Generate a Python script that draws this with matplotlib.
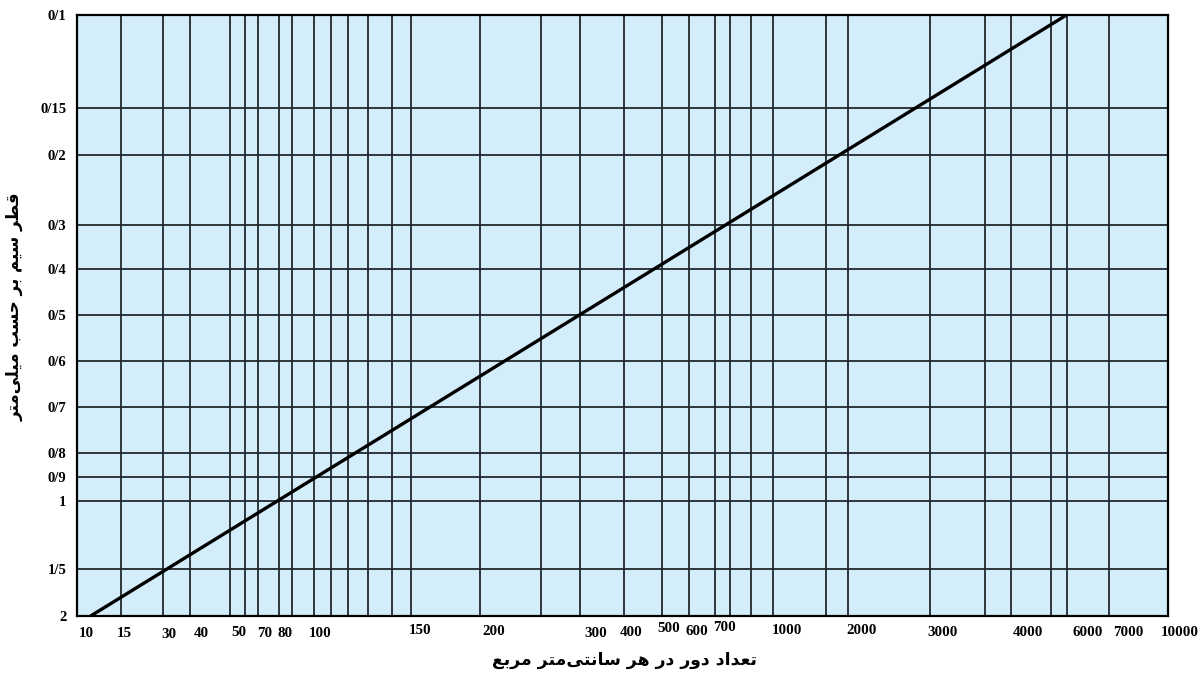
import numpy as np
import matplotlib
matplotlib.use("Agg")
import matplotlib.pyplot as plt
from matplotlib.ticker import FixedLocator, FixedFormatter, NullFormatter, NullLocator
from matplotlib.transforms import offset_copy

# ---- data -------------------------------------------------------------
# turns per square centimetre (x axis tick values)
turn_ticks = [10, 15, 30, 40, 50, 70, 80, 100, 150, 200, 300, 400, 500,
              600, 700, 1000, 2000, 3000, 4000, 6000, 7000, 10000]
turn_labels = [str(v) for v in turn_ticks]

# wire diameter in millimetres (y axis tick values, Persian decimal slash)
diameter_ticks = [0.1, 0.15, 0.2, 0.3, 0.4, 0.5, 0.6, 0.7, 0.8, 0.9, 1, 1.5, 2]
diameter_labels = ["0/1", "0/15", "0/2", "0/3", "0/4", "0/5", "0/6", "0/7",
                   "0/8", "0/9", "1", "1/5", "2"]

# characteristic line: turns per cm^2 versus wire diameter
line_turns = [10.5, 5200]
line_diameter = [2.0, 0.1]

x_title = "تعداد دور در هر سانتی\u200cمتر مربع"
y_title = "قطر سیم بر حسب میلی\u200cمتر"

# ---- layout (pixel positions on a 1199 x 676 sheet) ----------------------
FIG_W, FIG_H = 1199, 676
AX_L, AX_R, AX_T, AX_B = 77, 1168, 15, 616

# graph-paper scale: where each tick value sits along the axes
x_tick_px = [86, 124.3, 169, 201.7, 239.3, 264.3, 285.3, 320, 420, 493.3,
             595.3, 631, 668.3, 696.7, 725, 786.7, 861.7, 942.7, 1027.7,
             1087.7, 1128.3, 1180]
x_label_center_px = [631.7, 631.7, 632.7, 631.7, 631, 631.7, 631.7, 631.7,
                     629.3, 630, 631.7, 630.7, 627.3, 630, 626, 629.3, 629.3,
                     630.7, 630.7, 630.7, 630.7, 630.7]
y_tick_px = [15, 108.3, 154.5, 224.5, 269, 314.5, 361, 406.7, 452.7, 476.7,
             500.7, 569.3, 616]
x_grid_px = [120.7, 162.7, 190, 230.3, 245.3, 258, 279, 292, 314, 331.3, 348,
             368, 391.7, 411.3, 480, 541, 580, 624.3, 662, 688.7, 714.7,
             730.3, 751.3, 772.7, 825.7, 848.3, 930, 985, 1011, 1051, 1066.7,
             1109.3]

BG = "#D4EDFA"
GRID = "#23282c"


def make_scale(values, pixels):
    """Piecewise log scale through (value, pixel) anchors, linear beyond."""
    lv = np.log10(np.asarray(values, float))
    px = np.asarray(pixels, float)
    s0 = (px[1] - px[0]) / (lv[1] - lv[0])
    s1 = (px[-1] - px[-2]) / (lv[-1] - lv[-2])

    def fwd(v):
        v = np.log10(np.clip(np.asarray(v, float), 1e-12, None))
        out = np.interp(v, lv, px)
        out = np.where(v < lv[0], px[0] + (v - lv[0]) * s0, out)
        out = np.where(v > lv[-1], px[-1] + (v - lv[-1]) * s1, out)
        return out

    def inv(p):
        p = np.asarray(p, float)
        out = np.interp(p, px, lv)
        out = np.where(p < px[0], lv[0] + (p - px[0]) / s0, out)
        out = np.where(p > px[-1], lv[-1] + (p - px[-1]) / s1, out)
        return 10.0 ** out

    return fwd, inv


# ---- minimal Persian shaping (contextual forms, right-to-left) ----------
ARABIC_FORMS = {  # isolated, final, initial, medial
    "ا": (0xFE8D, 0xFE8E, None, None),
    "ب": (0xFE8F, 0xFE90, 0xFE91, 0xFE92),
    "ت": (0xFE95, 0xFE96, 0xFE97, 0xFE98),
    "ح": (0xFEA1, 0xFEA2, 0xFEA3, 0xFEA4),
    "د": (0xFEA9, 0xFEAA, None, None),
    "ر": (0xFEAD, 0xFEAE, None, None),
    "س": (0xFEB1, 0xFEB2, 0xFEB3, 0xFEB4),
    "ط": (0xFEC1, 0xFEC2, 0xFEC3, 0xFEC4),
    "ع": (0xFEC9, 0xFECA, 0xFECB, 0xFECC),
    "ق": (0xFED5, 0xFED6, 0xFED7, 0xFED8),
    "ل": (0xFEDD, 0xFEDE, 0xFEDF, 0xFEE0),
    "م": (0xFEE1, 0xFEE2, 0xFEE3, 0xFEE4),
    "ن": (0xFEE5, 0xFEE6, 0xFEE7, 0xFEE8),
    "ه": (0xFEE9, 0xFEEA, 0xFEEB, 0xFEEC),
    "و": (0xFEED, 0xFEEE, None, None),
    "\u06cc": (0xFBFC, 0xFBFD, 0xFBFE, 0xFBFF),
    "\u064a": (0xFBFC, 0xFBFD, 0xFBFE, 0xFBFF),
}
ZWNJ = "\u200c"


def shape_persian(text):
    chars = list(text)
    out = []
    for i, ch in enumerate(chars):
        if ch == ZWNJ:
            continue
        forms = ARABIC_FORMS.get(ch)
        if forms is None:
            out.append(ch)
            continue
        prev = chars[i - 1] if i > 0 else None
        nxt = chars[i + 1] if i + 1 < len(chars) else None
        join_prev = prev in ARABIC_FORMS and ARABIC_FORMS[prev][2] is not None
        join_next = forms[2] is not None and nxt in ARABIC_FORMS
        if join_prev and join_next:
            idx = 3
        elif join_prev:
            idx = 1
        elif join_next:
            idx = 2
        else:
            idx = 0
        out.append(chr(forms[idx]))
    return "".join(reversed(out))


# ---- figure ----------------------------------------------------------------
plt.rcParams["font.family"] = ["Liberation Serif", "DejaVu Serif"]
fig = plt.figure(figsize=(FIG_W / 100, FIG_H / 100), dpi=100)
ax = fig.add_axes([AX_L / FIG_W, 1 - AX_B / FIG_H,
                   (AX_R - AX_L) / FIG_W, (AX_B - AX_T) / FIG_H])
ax.set_facecolor(BG)

xf, xi = make_scale(turn_ticks, x_tick_px)
yf, yi = make_scale(diameter_ticks, y_tick_px)
ax.set_xscale("function", functions=(xf, xi))
ax.set_yscale("function", functions=(yf, yi))
ax.set_xlim(float(xi(AX_L)), float(xi(AX_R)))
ax.set_ylim(float(yi(AX_B)), float(yi(AX_T)))

# vertical rulings of the graph paper
ax.xaxis.set_major_locator(NullLocator())
ax.xaxis.set_minor_locator(FixedLocator(list(xi(np.array(x_grid_px)))))
ax.xaxis.set_minor_formatter(NullFormatter())
ax.grid(True, which="minor", axis="x", color=GRID, lw=1.3)

# horizontal rulings at every diameter value
ax.yaxis.set_major_locator(FixedLocator(diameter_ticks))
ax.yaxis.set_major_formatter(FixedFormatter(diameter_labels))
ax.yaxis.set_minor_locator(NullLocator())
ax.grid(True, which="major", axis="y", color=GRID, lw=1.3)
ax.tick_params(axis="both", which="both", length=0)
ax.tick_params(axis="y", pad=7.5, labelsize=10.5)
for lab in ax.get_yticklabels():
    lab.set_fontweight("bold")

# x tick labels sit just under the frame, each at its own height
for v, txt, cy in zip(turn_ticks, turn_labels, x_label_center_px):
    tr = offset_copy(ax.get_xaxis_transform(), fig=fig,
                     y=-(cy + 5.0 - AX_B), units="dots")
    ax.text(v, 0, txt, transform=tr, ha="center", va="baseline",
            fontsize=10.8, fontweight="bold", clip_on=False)

for sp in ax.spines.values():
    sp.set_color("black")
    sp.set_linewidth(1.6)

ax.plot(line_turns, line_diameter, color="black", lw=2.4,
        solid_capstyle="butt", zorder=3)

ax.set_xlabel(shape_persian(x_title), family=["DejaVu Sans"],
              fontweight="bold", fontsize=12.4, va="center")
ax.xaxis.set_label_coords((625 - AX_L) / (AX_R - AX_L),
                          -(660 - AX_B) / (AX_B - AX_T))
ax.set_ylabel(shape_persian(y_title), family=["DejaVu Sans"],
              fontweight="bold", fontsize=12, va="center", rotation=90)
ax.yaxis.set_label_coords(-(AX_L - 15) / (AX_R - AX_L),
                          (AX_B - 307) / (AX_B - AX_T))

fig.savefig("out.png", dpi=100)
